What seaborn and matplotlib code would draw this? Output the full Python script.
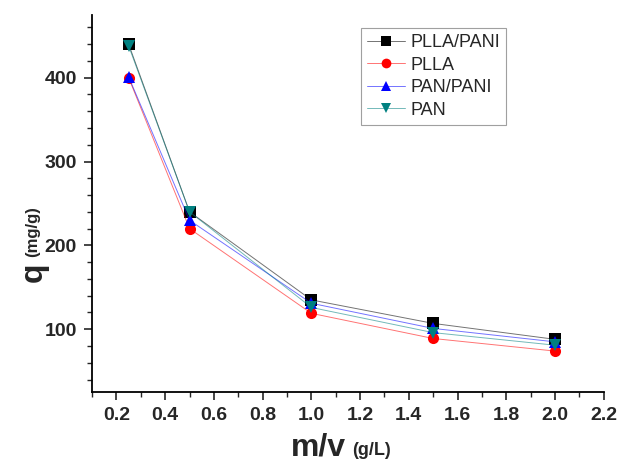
import pandas as pd
import matplotlib.pyplot as plt
import seaborn as sns
from matplotlib.ticker import MultipleLocator
from matplotlib.colors import to_rgba

# values
mv = [0.25, 0.5, 1.0, 1.5, 2.0]
q_plla_pani = [440, 240, 135, 107, 88]
q_plla = [400, 220, 119, 89, 74]
q_pan_pani = [401, 230, 131, 101, 85]
q_pan = [438, 240, 126, 96, 81]

names = ["PLLA/PANI", "PLLA", "PAN/PANI", "PAN"]
series = [q_plla_pani, q_plla, q_pan_pani, q_pan]
colors = {"PLLA/PANI": "black", "PLLA": "red", "PAN/PANI": "blue", "PAN": "#008080"}
markers = {"PLLA/PANI": "s", "PLLA": "o", "PAN/PANI": "^", "PAN": "v"}

df = pd.concat([pd.DataFrame({"mv": mv, "q": s, "sample": n})
                for n, s in zip(names, series)], ignore_index=True)

sns.set_style("white")
plt.rcParams["font.family"] = ["Liberation Sans", "DejaVu Sans"]

fig = plt.figure(figsize=(6.18, 4.63), dpi=100)
ax = fig.add_axes([0.149, 0.153, 0.828, 0.815])

sns.lineplot(data=df, x="mv", y="q", hue="sample", style="sample",
             palette=colors, markers=markers, dashes=False,
             hue_order=names, style_order=names,
             linewidth=0.7, markersize=8, markeredgewidth=0, ax=ax)


def soften(line, c):
    # pale connecting line, solid marker
    line.set_alpha(None)
    line.set_color(to_rgba(c, 0.55))
    line.set_markerfacecolor(to_rgba(c, 1.0))
    line.set_markeredgecolor(to_rgba(c, 1.0))


for line, n in zip(ax.lines, names):
    soften(line, colors[n])

ax.set_xlim(0.1, 2.2)
ax.set_ylim(25, 475)
ax.xaxis.set_minor_locator(MultipleLocator(0.1))
ax.yaxis.set_minor_locator(MultipleLocator(20))
ax.set_xticks([0.2, 0.4, 0.6, 0.8, 1.0, 1.2, 1.4, 1.6, 1.8, 2.0, 2.2])
ax.set_xticklabels(["0.2", "0.4", "0.6", "0.8", "1.0", "1.2", "1.4", "1.6",
                    "1.8", "2.0", "2.2"])
ax.set_yticks([100, 200, 300, 400])

ax.tick_params(which="major", direction="out", length=6, width=1.2,
               labelsize=14, pad=5, left=True, bottom=True)
ax.tick_params(which="minor", direction="out", length=3.5, width=1,
               left=True, bottom=True)
for lab in ax.get_xticklabels() + ax.get_yticklabels():
    lab.set_fontweight("bold")

for side in ["top", "right"]:
    ax.spines[side].set_visible(False)
for side in ["left", "bottom"]:
    ax.spines[side].set_color("black")
    ax.spines[side].set_linewidth(1.3)

ax.set_xlabel("")
ax.set_ylabel("")
fig.text(0.56, 0.017, "m/v", fontsize=23, fontweight="bold", ha="right", va="baseline")
fig.text(0.57, 0.017, "(g/L)", fontsize=13, fontweight="bold", ha="left", va="baseline")
fig.text(0.055, 0.432, "q", fontsize=23, fontweight="bold", rotation=90,
         ha="center", va="top")
fig.text(0.052, 0.445, "(mg/g)", fontsize=12, fontweight="bold", rotation=90,
         ha="center", va="bottom")

leg = ax.legend(loc="upper left", bbox_to_anchor=(0.525, 0.965), fontsize=13,
                frameon=True, fancybox=False, edgecolor="#888888",
                borderpad=0.35, labelspacing=0.3, handlelength=2.1,
                handletextpad=0.3, borderaxespad=0)
leg.get_frame().set_linewidth(0.8)
for h, n in zip(leg.get_lines(), names):
    soften(h, colors[n])
    h.set_markersize(7)

fig.savefig("out.png", dpi=100)
